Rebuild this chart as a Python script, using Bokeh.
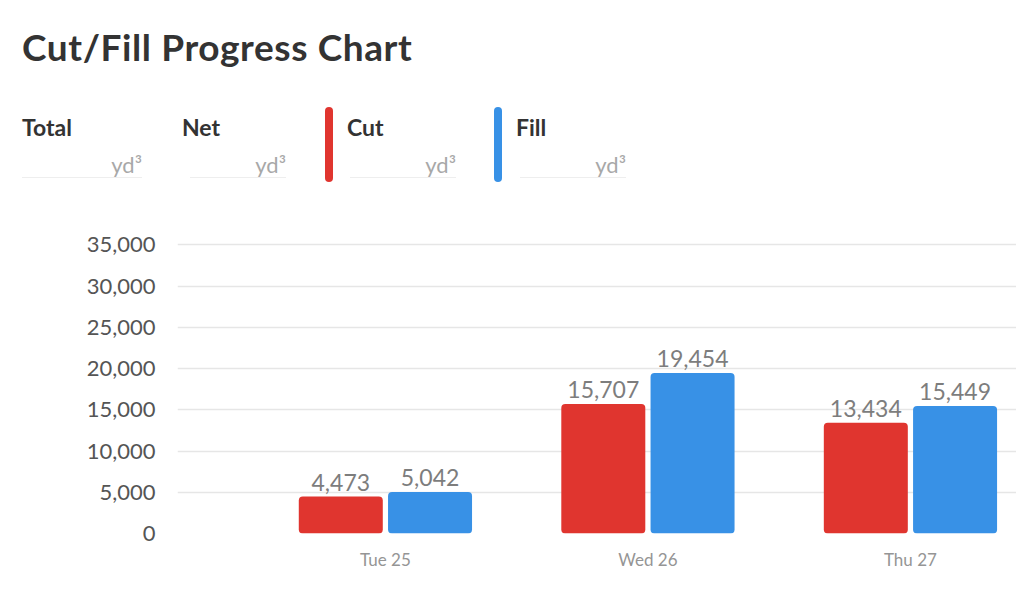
from bokeh.plotting import figure
from bokeh.models import (Range1d, SingleIntervalTicker, FixedTicker, NumeralTickFormatter,
                          ColumnDataSource, Div)
from bokeh.layouts import column
from bokeh.transform import dodge
from bokeh.embed import file_html
from bokeh.resources import INLINE
from bokeh.core.properties import value

# ---- data ----
days = ["Tue 25", "Wed 26", "Thu 27"]
cut = [4473, 15707, 13434]
fill = [5042, 19454, 15449]
summary_labels = ["Total", "Net", "Cut", "Fill"]
unit_label = "yd³"
title_text = "Cut/Fill Progress Chart"

FONT = "Lato"
RED = "#e0352f"
BLUE = "#3891e6"

W = 1016
HDR = 200
H = 581 - HDR
BL, FH = 177, 292
BT = 241 - HDR
BB = H - BT - FH

# ---- header (HTML) ----
lab_x = [22, 182, 347, 516]
unit_x = [142, 286, 456, 626]
line_x0 = [22, 190, 350, 520]
pills = {2: RED, 3: BLUE}
pill_x = {2: 329, 3: 498}

parts = [f'<div style="position:relative;width:{W}px;height:{HDR}px;font-family:{FONT},sans-serif;">']
parts.append(f'<div style="position:absolute;left:22px;top:28px;font-size:37px;line-height:37px;'
             f'letter-spacing:0.6px;font-weight:bold;color:#333;white-space:nowrap;">{title_text}</div>')
for i, (lx, ux, l0, t) in enumerate(zip(lab_x, unit_x, line_x0, summary_labels)):
    parts.append(f'<div style="position:absolute;left:{l0}px;top:177px;width:{ux - l0}px;height:1px;'
                 f'background:#eeeeee;"></div>')
    parts.append(f'<div style="position:absolute;left:{lx}px;top:116px;font-size:23px;line-height:23px;'
                 f'font-weight:bold;color:#333;white-space:nowrap;">{t}</div>')
    parts.append(f'<div style="position:absolute;left:{ux - 80}px;width:80px;top:154px;font-size:22px;'
                 f'line-height:22px;text-align:right;color:#a8a8a8;white-space:nowrap;">{unit_label}</div>')
    if i in pills:
        parts.append(f'<div style="position:absolute;left:{pill_x[i] - 4}px;top:107px;width:8px;height:75px;'
                     f'border-radius:4px;background:{pills[i]};"></div>')
parts.append('</div>')
hdr = Div(text="".join(parts), width=W, height=HDR, margin=(0, 0, 0, 0))

# ---- chart ----
xs = list(range(len(days)))
src = ColumnDataSource(dict(
    x=xs, cut=cut, fill=fill,
    cut_lbl=[f"{v:,}" for v in cut], fill_lbl=[f"{v:,}" for v in fill],
))

p = figure(width=W, height=H, x_range=Range1d(-0.792, 2.404), y_range=Range1d(0, 35400),
           output_backend="svg", toolbar_location=None, margin=(0, 0, 0, 0),
           min_border_left=BL, min_border_right=0, min_border_top=BT, min_border_bottom=BB)
p.outline_line_color = None
p.xgrid.visible = False
p.ygrid.grid_line_color = "#e6e6e6"
p.ygrid.grid_line_width = 1.5

off = 0.17
bw = 0.32
p.vbar(x=dodge("x", -off), top="cut", width=bw, source=src, fill_color=RED, line_color=None, border_radius=4)
p.vbar(x=dodge("x", off), top="fill", width=bw, source=src, fill_color=BLUE, line_color=None, border_radius=4)

for col, lbl, d in (("cut", "cut_lbl", -off), ("fill", "fill_lbl", off)):
    p.text(x=dodge("x", d), y=col, text=lbl, source=src, y_offset=-6,
           text_font=value(FONT), text_font_size="23px", text_color="#7d7d7d",
           text_align="center", text_baseline="bottom")

p.yaxis.ticker = SingleIntervalTicker(interval=5000)
p.yaxis.formatter = NumeralTickFormatter(format="0,0")
p.yaxis.axis_line_color = None
p.yaxis.major_tick_line_color = None
p.yaxis.minor_tick_line_color = None
p.yaxis.major_label_text_font = FONT
p.yaxis.major_label_text_font_size = "22px"
p.yaxis.major_label_text_color = "#555555"
p.yaxis.major_label_standoff = 16

p.xaxis.ticker = FixedTicker(ticks=xs)
p.xaxis.major_label_overrides = {i: d for i, d in zip(xs, days)}
p.xaxis.axis_line_color = None
p.xaxis.major_tick_line_color = None
p.xaxis.minor_tick_line_color = None
p.xaxis.major_label_text_font = FONT
p.xaxis.major_label_text_font_size = "17px"
p.xaxis.major_label_text_color = "#959595"
p.xaxis.major_label_standoff = 9

layout = column(hdr, p, spacing=0)
open("out.html", "w").write(file_html(layout, INLINE))
